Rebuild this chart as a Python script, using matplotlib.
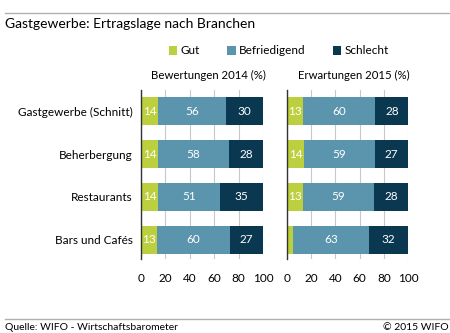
import matplotlib.pyplot as plt
from matplotlib.lines import Line2D
from matplotlib.patches import Patch

plt.rcParams['font.family'] = ['Lato', 'DejaVu Sans']

branchen = ['Gastgewerbe (Schnitt)', 'Beherbergung', 'Restaurants', 'Bars und Cafés']
serien = ['Gut', 'Befriedigend', 'Schlecht']
farben = ['#bccf3e', '#5a94ad', '#0b3851']

# Anteile in Prozent je Branche
gut_2014 = [14, 14, 14, 13]
befr_2014 = [56, 58, 51, 60]
schl_2014 = [30, 28, 35, 27]

gut_2015 = [13, 14, 13, 5]
befr_2015 = [60, 59, 59, 63]
schl_2015 = [28, 27, 28, 32]

ticks = [0, 20, 40, 60, 80, 100]

fig = plt.figure(figsize=(4.5, 3.33), dpi=100)
W, H = 450, 333

def px_axes(x0, x1, y0, y1):
    return fig.add_axes([x0 / W, 1 - y1 / H, (x1 - x0) / W, (y1 - y0) / H])

ax1 = px_axes(141, 263, 90, 259)
ax2 = px_axes(287, 408, 90, 259)

def zeichne(ax, werte, titel, labels_links):
    pos = list(range(len(branchen)))
    links = [0] * len(branchen)
    for reihe, farbe in zip(werte, farben):
        ax.barh(pos, reihe, left=links, height=0.65, color=farbe, zorder=2)
        for i, v in enumerate(reihe):
            if v >= 8:
                ax.text(links[i] + v / 2, i, str(v), ha='center', va='center',
                        color='white', fontsize=8.5, zorder=3)
        links = [a + b for a, b in zip(links, reihe)]
    ax.set_xlim(0, 100)
    ax.set_ylim(3.45, -0.5)
    ax.set_xticks(ticks)
    ax.set_xticklabels([str(t) for t in ticks], fontsize=8.5)
    ax.tick_params(axis='x', length=0, pad=10)
    ax.tick_params(axis='y', length=0)
    ax.set_yticks(pos)
    if labels_links:
        ax.set_yticklabels(branchen, fontsize=8.5)
        ax.tick_params(axis='y', pad=6)
    else:
        ax.set_yticklabels([])
    ax.grid(axis='x', color='#c8c8c8', linewidth=0.8, zorder=1)
    for s in ['top', 'right', 'bottom']:
        ax.spines[s].set_visible(False)
    ax.spines['left'].set_color('#333333')
    ax.spines['left'].set_linewidth(1.0)
    ax.text(0.55, 1.0 + 9 / 169, titel, transform=ax.transAxes,
            ha='center', va='bottom', fontsize=8.2)

zeichne(ax1, [gut_2014, befr_2014, schl_2014], 'Bewertungen 2014 (%)', True)
zeichne(ax2, [gut_2015, befr_2015, schl_2015], 'Erwartungen 2015 (%)', False)

# Kopf- und Fußzeile
fig.add_artist(Line2D([5 / W, 1], [1 - 13 / H] * 2, color='#b0b0b0', linewidth=1))
fig.text(5 / W, 1 - 24 / H, 'Gastgewerbe: Ertragslage nach Branchen',
         ha='left', va='center', fontsize=10)
fig.add_artist(Line2D([5 / W, 1], [1 - 319 / H] * 2, color='#b0b0b0', linewidth=1))
fig.text(5 / W, 1 - 327 / H, 'Quelle: WIFO - Wirtschaftsbarometer',
         ha='left', va='center', fontsize=7.5)
fig.text(449 / W, 1 - 327 / H, '© 2015 WIFO', ha='right', va='center', fontsize=7.5)

handles = [Patch(facecolor=f, edgecolor='none') for f in farben]
fig.legend(handles, serien, loc='center', bbox_to_anchor=(279 / W, 1 - 51 / H),
           ncol=3, frameon=False, fontsize=8.5, handlelength=0.7, handleheight=0.7,
           handletextpad=0.3, columnspacing=2.3)

fig.savefig('out.png', dpi=100)
